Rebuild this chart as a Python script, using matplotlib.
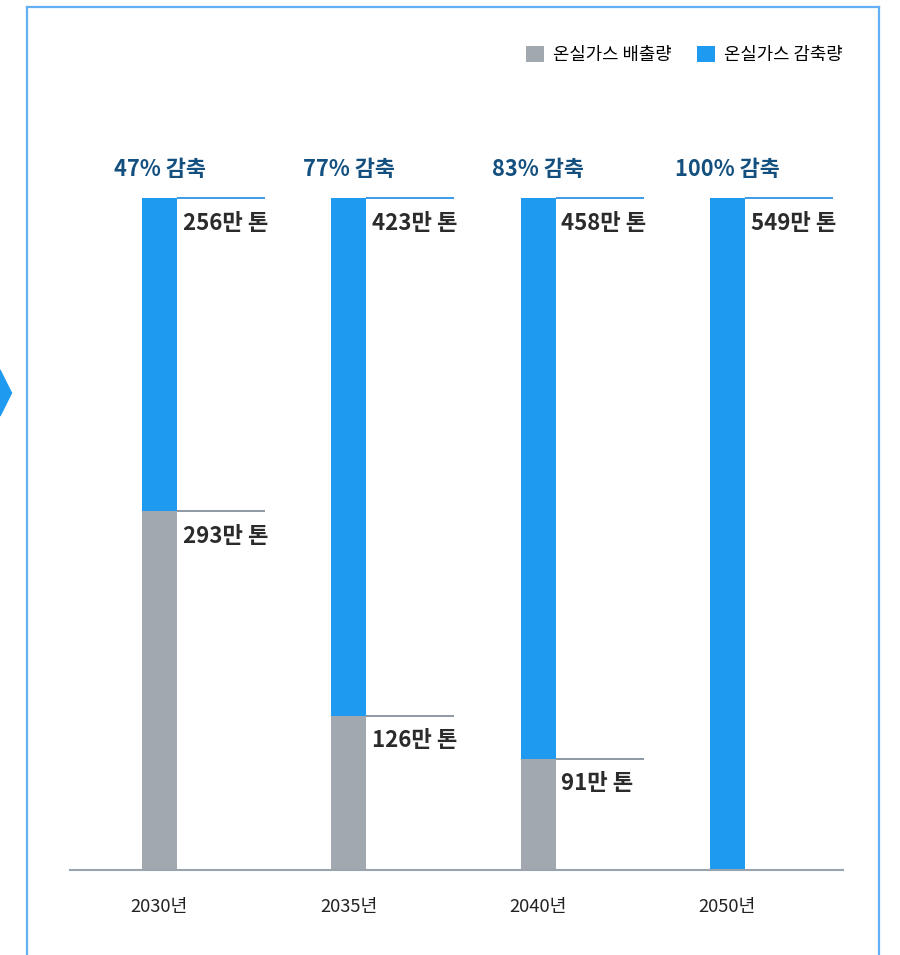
import matplotlib
matplotlib.use('Agg')
import matplotlib.pyplot as plt
from matplotlib.patches import Patch, Polygon
from matplotlib.lines import Line2D
import numpy as np

plt.rcParams['font.family'] = ['Noto Sans CJK KR', 'DejaVu Sans']

# ---- data ----
years = ['2030년', '2035년', '2040년', '2050년']
emissions = [293, 126, 91, 0]          # 만 톤
reductions = [256, 423, 458, 549]      # 만 톤
reduction_pct = ['47% 감축', '77% 감축', '83% 감축', '100% 감축']
legend_labels = ['온실가스 배출량', '온실가스 감축량']

GRAY = '#a1a8b0'
BLUE = '#1e9bf0'
PCT_COLOR = '#13507f'
LABEL_COLOR = '#2b2b2b'
BORDER = '#62b0f2'

W, H = 900, 955
fig = plt.figure(figsize=(W / 100, H / 100), dpi=100)

def fx(px):
    return px / W

def fy(py):
    return 1 - py / H

# outer border (open at the bottom)
for xs, ys in [([27, 27], [7, 955]), ([27, 879], [7, 7]), ([879, 879], [7, 955])]:
    fig.add_artist(Line2D([fx(v) for v in xs], [fy(v) for v in ys],
                          color=BORDER, lw=1.6, transform=fig.transFigure))

# chevron on the left edge
fig.add_artist(Polygon([(fx(0), fy(370)), (fx(11.5), fy(393)), (fx(0), fy(416))],
                       closed=True, color=BLUE, transform=fig.transFigure))

ax = fig.add_axes([fx(70), fy(870), 773 / W, 672 / H])
x = np.arange(len(years))
spacing = 189.33
bw = 35 / spacing
totals = [e + r for e, r in zip(emissions, reductions)]

ax.bar(x, emissions, bw, color=GRAY, zorder=2)
ax.bar(x, reductions, bw, bottom=emissions, color=BLUE, zorder=2)
ax.set_xlim(-(159.5 - 70) / spacing, 3 + (843 - 727.5) / spacing)
ax.set_ylim(0, max(totals))

line_end = (265 - 159.5) / spacing
for i in range(len(years)):
    t = totals[i]
    ax.plot([x[i] + bw / 2, x[i] + line_end], [t, t], color='#3d9be6', lw=1.4,
            clip_on=False, zorder=3, solid_capstyle='butt')
    ax.annotate(f'{reductions[i]}만 톤', (x[i] + bw / 2, t), xytext=(4.0, -18.0),
                textcoords='offset points', ha='left', va='center',
                fontsize=16, fontweight='bold', color=LABEL_COLOR)
    ax.annotate(reduction_pct[i], (x[i], t), xytext=(0, 20.5),
                textcoords='offset points', ha='center', va='center',
                fontsize=15.7, fontweight='bold', color=PCT_COLOR, annotation_clip=False)
    if emissions[i] > 0:
        e = emissions[i]
        ax.plot([x[i] + bw / 2, x[i] + line_end], [e, e], color='#7b8794', lw=1.2,
                clip_on=False, zorder=3, solid_capstyle='butt')
        ax.annotate(f'{e}만 톤', (x[i] + bw / 2, e), xytext=(4.0, -18.0),
                    textcoords='offset points', ha='left', va='center',
                    fontsize=16, fontweight='bold', color=LABEL_COLOR)

for s in ['top', 'right', 'left']:
    ax.spines[s].set_visible(False)
ax.spines['bottom'].set_color('#9aa4ae')
ax.spines['bottom'].set_linewidth(1.5)
ax.set_yticks([])
ax.set_xticks(x)
ax.set_xticklabels(years, fontsize=13.2, color='#222222')
ax.tick_params(axis='x', length=0, pad=20)

handles = [Patch(facecolor=GRAY, edgecolor='none'), Patch(facecolor=BLUE, edgecolor='none')]
fig.legend(handles, legend_labels, loc='center right', bbox_to_anchor=(fx(843), fy(55)),
           ncol=2, frameon=False, fontsize=12.8, handlelength=1.05, handleheight=1.05,
           handletextpad=0.5, columnspacing=1.4, borderpad=0, borderaxespad=0)

fig.savefig('out.png', dpi=100)
